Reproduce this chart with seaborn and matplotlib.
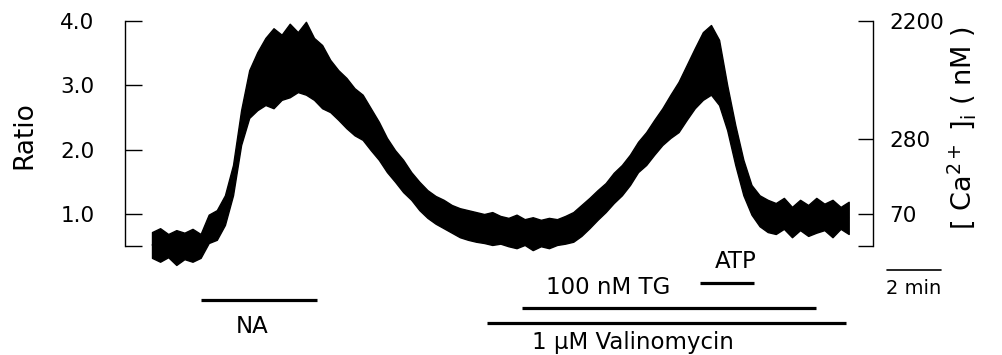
import numpy as np
import pandas as pd
import matplotlib
import matplotlib.pyplot as plt
import seaborn as sns

matplotlib.use("Agg")

# fura-2 ratio trace, read off the picture as an envelope (min / max of the noisy trace)
# one sample every 0.3 min, starting at t = 0
dt = 0.3
ratio_upper = [
    0.72, 0.78, 0.69, 0.75, 0.71, 0.77, 0.69, 0.99, 1.06, 1.29,
    1.76, 2.61, 3.23, 3.51, 3.73, 3.88, 3.78, 3.95, 3.82, 3.98,
    3.73, 3.62, 3.39, 3.23, 3.11, 2.95, 2.85, 2.64, 2.43, 2.18,
    1.99, 1.84, 1.65, 1.50, 1.37, 1.28, 1.22, 1.14, 1.09, 1.06,
    1.03, 1.00, 1.03, 0.97, 0.94, 0.99, 0.92, 0.95, 0.91, 0.94,
    0.92, 0.97, 1.03, 1.14, 1.25, 1.37, 1.48, 1.64, 1.76, 1.92,
    2.12, 2.27, 2.46, 2.64, 2.85, 3.05, 3.31, 3.57, 3.82, 3.93,
    3.70, 3.00, 2.38, 1.84, 1.45, 1.29, 1.22, 1.17, 1.25, 1.11,
    1.22, 1.14, 1.25, 1.16, 1.22, 1.11, 1.19,
]
ratio_lower = [
    0.32, 0.26, 0.33, 0.21, 0.30, 0.26, 0.32, 0.55, 0.60, 0.83,
    1.29, 2.07, 2.49, 2.61, 2.69, 2.64, 2.77, 2.81, 2.89, 2.85,
    2.77, 2.64, 2.58, 2.46, 2.33, 2.22, 2.15, 1.99, 1.84, 1.65,
    1.50, 1.34, 1.22, 1.06, 0.94, 0.85, 0.78, 0.71, 0.64, 0.60,
    0.57, 0.55, 0.52, 0.54, 0.50, 0.47, 0.52, 0.44, 0.50, 0.47,
    0.52, 0.54, 0.57, 0.66, 0.78, 0.91, 1.03, 1.17, 1.29, 1.45,
    1.65, 1.76, 1.92, 2.07, 2.18, 2.27, 2.46, 2.64, 2.77, 2.85,
    2.69, 2.30, 1.76, 1.29, 0.99, 0.81, 0.72, 0.69, 0.77, 0.64,
    0.75, 0.66, 0.71, 0.75, 0.64, 0.77, 0.69,
]

# axis ticks
ratio_ticks = [0.5, 1.0, 2.0, 3.0, 4.0]
ratio_tick_labels = ["", "1.0", "2.0", "3.0", "4.0"]
ca_tick_pos = [0.5, 1.0, 2.16, 4.0]
ca_tick_labels = ["", "70", "280", "2200"]

# drug applications (min)
drugs = ["NA", "100 nM TG", "ATP", "1 μM Valinomycin"]
drug_start = [1.8, 13.7, 20.3, 12.4]
drug_end = [6.1, 24.6, 22.3, 25.7]
scale_bar_min = 2

times = np.arange(len(ratio_upper)) * dt
df = pd.DataFrame(
    {
        "time": np.concatenate([times, times]),
        "ratio": ratio_upper + ratio_lower,
    }
)

sns.set_theme(style="white")
plt.rcParams["font.family"] = ["DejaVu Sans"]
plt.rcParams["mathtext.fontset"] = "dejavusans"
plt.rcParams["text.color"] = "black"

W, H = 1002, 355
fig = plt.figure(figsize=(W / 100, H / 100), dpi=100)
ax = fig.add_axes([125 / W, 0, (873 - 125) / W, 1])

sns.lineplot(
    data=df,
    x="time",
    y="ratio",
    estimator="mean",
    errorbar=("pi", 100),
    color="black",
    linewidth=0.8,
    err_kws=dict(alpha=1, linewidth=1.0, edgecolor="black"),
    ax=ax,
)

ax.set_xlim(-1.0, 26.7)
ax.set_ylim(-1.186, 4.318)
ax.set_xlabel("")
ax.set_ylabel("")
ax.set_xticks([])
ax.set_yticks(ratio_ticks)
ax.set_yticklabels(ratio_tick_labels)
ax.tick_params(axis="y", direction="in", length=12, width=1, pad=22,
               labelsize=15.5, colors="black", left=True)

ax2 = ax.twinx()
ax2.set_ylim(ax.get_ylim())
ax2.set_yticks(ca_tick_pos)
ax2.set_yticklabels(ca_tick_labels)
ax2.tick_params(axis="y", direction="in", length=11, width=1, pad=12,
                labelsize=15.5, colors="black", right=True)

for a in (ax, ax2):
    for s in ("top", "bottom"):
        a.spines[s].set_visible(False)
ax.spines["right"].set_visible(False)
ax2.spines["left"].set_visible(False)
ax.spines["left"].set_bounds(0.5, 4.0)
ax2.spines["right"].set_bounds(0.5, 4.0)
for a, s in ((ax, "left"), (ax2, "right")):
    a.spines[s].set_color("black")
    a.spines[s].set_linewidth(1)

# drug bars and labels (y in axes fraction)
tr = ax.get_xaxis_transform()
bar_y = [0.155, 0.132, 0.203, 0.090]
label_x = [3.7, 16.9, 21.6, 17.8]
label_y = [0.080, 0.190, 0.262, 0.036]
for name, t0, t1, by, lx, ly in zip(drugs, drug_start, drug_end, bar_y, label_x, label_y):
    ax.plot([t0, t1], [by, by], color="black", lw=2.3, transform=tr,
            solid_capstyle="butt", clip_on=False)
    ax.text(lx, ly, name, transform=tr, ha="center", va="center",
            fontsize=16.5, color="black")

# time scale bar
sb0 = 27.2
ax.plot([sb0, sb0 + scale_bar_min], [0.239, 0.239], color="black", lw=1.2,
        transform=tr, clip_on=False)
ax.text(sb0 + scale_bar_min / 2, 0.186, f"{scale_bar_min} min", transform=tr,
        ha="center", va="center", fontsize=14, color="black")

fig.text(24 / W, 1 - 135 / H, "Ratio", rotation=90, ha="center", va="center",
         fontsize=19, color="black")
fig.text(962 / W, 1 - 128 / H, r"[ Ca$^{\mathrm{2+}}$ ]$_{\mathrm{i}}$ ( nM )",
         rotation=90, ha="center", va="center", fontsize=19.5, color="black")

fig.savefig("out.png", dpi=100, facecolor="white")
